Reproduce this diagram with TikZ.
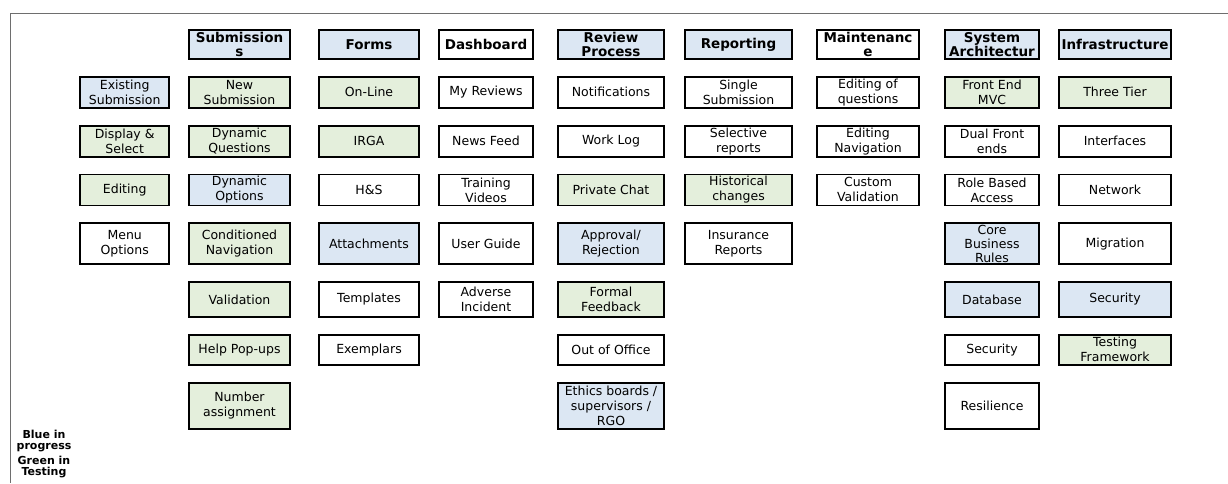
\documentclass[tikz,border=0pt]{standalone}
\usepackage{fontspec}
\setmainfont{DejaVu Sans}
\usepackage{tikz}
\usetikzlibrary{positioning}

\definecolor{progblue}{RGB}{220,231,243}
\definecolor{testgreen}{RGB}{228,239,220}
\definecolor{framegray}{RGB}{110,110,110}

\tikzset{
  box/.style={draw=black, line width=1.8pt, align=center, inner sep=1pt,
    font=\fontsize{12.5}{15}\selectfont},
  head/.style={box, minimum height=29pt, font=\fontsize{13.5}{14}\selectfont\bfseries},
  prog/.style={fill=progblue},
  test/.style={fill=testgreen},
  h33/.style={minimum height=31pt},
  h43/.style={minimum height=41pt},
  h37/.style={minimum height=35pt},
  h32/.style={minimum height=30pt},
  h48/.style={minimum height=46pt},
  legend/.style={align=center, inner sep=0pt, font=\fontsize{11}{11}\selectfont\bfseries}
}

\begin{document}
\begin{tikzpicture}[x=1pt, y=-1pt, node distance=16pt and 18pt,
    colA/.style={minimum width=89pt}, colB/.style={minimum width=101pt},
    colC/.style={minimum width=100pt}, colD/.style={minimum width=94pt},
    colE/.style={minimum width=106pt}, colF/.style={minimum width=107pt},
    colG/.style={minimum width=102pt}, colH/.style={minimum width=94pt},
    colI/.style={minimum width=112pt}]
      \useasboundingbox (0,0) rectangle (1228,483);
      % frame
      \draw[framegray, line width=0.8pt] (1228,13) -- (10,13) -- (10,483);

      % headers
      \node[head, prog, colB] (s0) at (239.5,44.5) {Submission\\s};
      \node[head, prog, colC] (f0) at (369,44.5) {Forms};
      \node[head, colD] (d0) at (486,44.5) {Dashboard};
      \node[head, prog, colE] (r0) at (611,44.5) {Review\\Process};
      \node[head, prog, colF] (p0) at (738.5,44.5) {Reporting};
      \node[head, colG] (m0) at (868,44.5) {Maintenanc\\e};
      \node[head, prog, colH] (a0) at (992,44.5) {System\\Architectur};
      \node[head, prog, colI] (i0) at (1115,44.5) {Infrastructure};

      % submissions
      \node[box, test, colB, h33] (s1) [below=of s0] {New\\Submission};
      \node[box, test, colB, h33] (s2) [below=of s1] {Dynamic\\Questions};
      \node[box, prog, colB, h33] (s3) [below=of s2] {Dynamic\\Options};
      \node[box, test, colB, h43] (s4) [below=of s3] {Conditioned\\Navigation};
      \node[box, test, colB, h37] (s5) [below=of s4] {Validation};
      \node[box, test, colB, h32] (s6) [below=of s5] {Help Pop-ups};
      \node[box, test, colB, h48] (s7) [below=of s6] {Number\\assignment};

      \node[box, prog, colA, h33] (e1) [left=of s1] {Existing\\Submission};
      \node[box, test, colA, h33] (e2) [left=of s2] {Display \&\\Select};
      \node[box, test, colA, h33] (e3) [left=of s3] {Editing};
      \node[box, colA, h43] (e4) [left=of s4] {Menu\\Options};

      % forms
      \node[box, test, colC, h33] (f1) [below=of f0] {On-Line};
      \node[box, test, colC, h33] (f2) [below=of f1] {IRGA};
      \node[box, colC, h33] (f3) [below=of f2] {H\&S};
      \node[box, prog, colC, h43] (f4) [below=of f3] {Attachments};
      \node[box, colC, h37] (f5) [below=of f4] {Templates};
      \node[box, colC, h32] (f6) [below=of f5] {Exemplars};

      % dashboard
      \node[box, colD, h33] (d1) [below=of d0] {My Reviews};
      \node[box, colD, h33] (d2) [below=of d1] {News Feed};
      \node[box, colD, h33] (d3) [below=of d2] {Training\\Videos};
      \node[box, colD, h43] (d4) [below=of d3] {User Guide};
      \node[box, colD, h37] (d5) [below=of d4] {Adverse\\Incident};

      % review process
      \node[box, colE, h33] (r1) [below=of r0] {Notifications};
      \node[box, colE, h33] (r2) [below=of r1] {Work Log};
      \node[box, test, colE, h33] (r3) [below=of r2] {Private Chat};
      \node[box, prog, colE, h43] (r4) [below=of r3] {Approval/\\Rejection};
      \node[box, test, colE, h37] (r5) [below=of r4] {Formal\\Feedback};
      \node[box, colE, h32] (r6) [below=of r5] {Out of Office};
      \node[box, prog, colE, h48] (r7) [below=of r6] {Ethics boards /\\supervisors /\\RGO};

      % reporting
      \node[box, colF, h33] (p1) [below=of p0] {Single\\Submission};
      \node[box, colF, h33] (p2) [below=of p1] {Selective\\reports};
      \node[box, test, colF, h33] (p3) [below=of p2] {Historical\\changes};
      \node[box, colF, h43] (p4) [below=of p3] {Insurance\\Reports};

      % maintenance
      \node[box, colG, h33] (m1) [below=of m0] {Editing of\\questions};
      \node[box, colG, h33] (m2) [below=of m1] {Editing\\Navigation};
      \node[box, colG, h33] (m3) [below=of m2] {Custom\\Validation};

      % system architecture
      \node[box, test, colH, h33] (a1) [below=of a0] {Front End\\MVC};
      \node[box, colH, h33] (a2) [below=of a1] {Dual Front\\ends};
      \node[box, colH, h33] (a3) [below=of a2] {Role Based\\Access};
      \node[box, prog, colH, h43, font=\fontsize{12.5}{14}\selectfont] (a4) [below=of a3] {Core\\Business\\Rules};
      \node[box, prog, colH, h37] (a5) [below=of a4] {Database};
      \node[box, colH, h32] (a6) [below=of a5] {Security};
      \node[box, colH, h48] (a7) [below=of a6] {Resilience};

      % infrastructure
      \node[box, test, colI, h33] (i1) [below=of i0] {Three Tier};
      \node[box, colI, h33] (i2) [below=of i1] {Interfaces};
      \node[box, colI, h33] (i3) [below=of i2] {Network};
      \node[box, colI, h43] (i4) [below=of i3] {Migration};
      \node[box, prog, colI, h37] (i5) [below=of i4] {Security};
      \node[box, test, colI, h32] (i6) [below=of i5] {Testing\\Framework};

      % legend
      \node[legend] (lb) at (44,441) {Blue in\\progress};
      \node[legend] (lg) at (44,467) {Green in\\Testing};
\end{tikzpicture}
\end{document}
